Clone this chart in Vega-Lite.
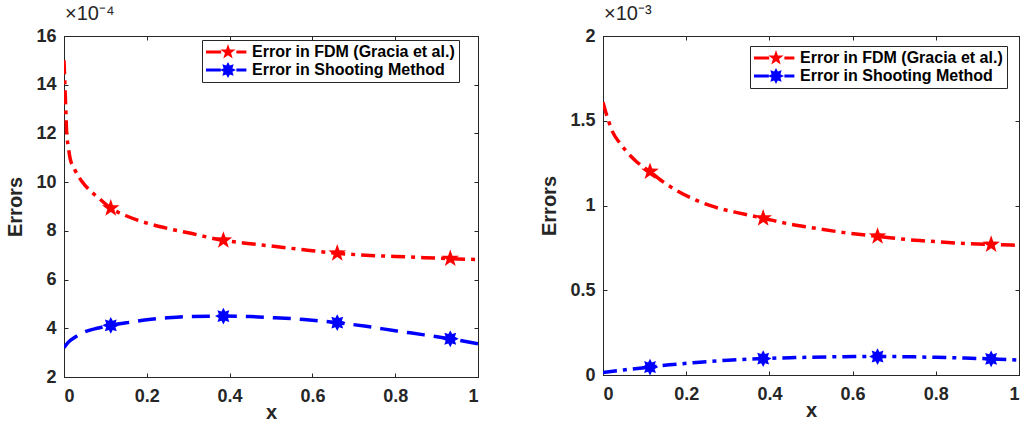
{
  "$schema": "https://vega.github.io/schema/vega-lite/v6.json",
  "background": "white",
  "padding": {"left": 5, "top": 3, "right": 0, "bottom": 0},
  "spacing": 60,
  "config": {
    "font": "Liberation Sans",
    "view": {"stroke": "#262626", "strokeWidth": 1},
    "title": {"font": "Liberation Sans", "fontSize": 20, "fontWeight": "normal", "color": "#262626", "anchor": "start", "frame": "group", "baseline": "alphabetic", "offset": 3, "dx": 1},
    "axis": {
      "labelFont": "Liberation Sans", "labelFontWeight": "bold", "labelFontSize": 18, "labelColor": "#262626",
      "titleFont": "Liberation Sans", "titleFontWeight": "bold", "titleFontSize": 20, "titleColor": "#262626",
      "domainColor": "#262626", "tickColor": "#262626", "grid": false
    },
    "legend": {
      "labelFont": "Liberation Sans", "labelFontWeight": "bold", "labelFontSize": 16, "labelColor": "black",
      "strokeColor": "#262626", "fillColor": "white", "padding": 4, "rowPadding": 2,
      "symbolSize": 256, "symbolStrokeWidth": 0, "symbolOpacity": 1, "symbolOffset": 14, "labelOffset": 16, "labelLimit": 400
    }
  },
  "datasets": {
    "leftCurves": [
      {"method": "Error in FDM (Gracia et al.)", "x": 0, "error": 15.0},
      {"method": "Error in FDM (Gracia et al.)", "x": 0.0024, "error": 13.9},
      {"method": "Error in FDM (Gracia et al.)", "x": 0.0045, "error": 12.9},
      {"method": "Error in FDM (Gracia et al.)", "x": 0.0065, "error": 12.0},
      {"method": "Error in FDM (Gracia et al.)", "x": 0.01, "error": 11.5},
      {"method": "Error in FDM (Gracia et al.)", "x": 0.0145, "error": 11.0},
      {"method": "Error in FDM (Gracia et al.)", "x": 0.025, "error": 10.55},
      {"method": "Error in FDM (Gracia et al.)", "x": 0.0425, "error": 10.05},
      {"method": "Error in FDM (Gracia et al.)", "x": 0.06, "error": 9.7},
      {"method": "Error in FDM (Gracia et al.)", "x": 0.083, "error": 9.36},
      {"method": "Error in FDM (Gracia et al.)", "x": 0.113, "error": 8.93},
      {"method": "Error in FDM (Gracia et al.)", "x": 0.15, "error": 8.62},
      {"method": "Error in FDM (Gracia et al.)", "x": 0.2, "error": 8.32},
      {"method": "Error in FDM (Gracia et al.)", "x": 0.25, "error": 8.1},
      {"method": "Error in FDM (Gracia et al.)", "x": 0.3, "error": 7.92},
      {"method": "Error in FDM (Gracia et al.)", "x": 0.385, "error": 7.61},
      {"method": "Error in FDM (Gracia et al.)", "x": 0.45, "error": 7.47},
      {"method": "Error in FDM (Gracia et al.)", "x": 0.5, "error": 7.38},
      {"method": "Error in FDM (Gracia et al.)", "x": 0.58, "error": 7.22},
      {"method": "Error in FDM (Gracia et al.)", "x": 0.66, "error": 7.08},
      {"method": "Error in FDM (Gracia et al.)", "x": 0.75, "error": 6.98},
      {"method": "Error in FDM (Gracia et al.)", "x": 0.8, "error": 6.95},
      {"method": "Error in FDM (Gracia et al.)", "x": 0.87, "error": 6.9},
      {"method": "Error in FDM (Gracia et al.)", "x": 0.933, "error": 6.86},
      {"method": "Error in FDM (Gracia et al.)", "x": 1.0, "error": 6.82},
      {"method": "Error in Shooting Method", "x": 0, "error": 3.2},
      {"method": "Error in Shooting Method", "x": 0.01, "error": 3.42},
      {"method": "Error in Shooting Method", "x": 0.027, "error": 3.64},
      {"method": "Error in Shooting Method", "x": 0.05, "error": 3.85},
      {"method": "Error in Shooting Method", "x": 0.08, "error": 4.0},
      {"method": "Error in Shooting Method", "x": 0.113, "error": 4.12},
      {"method": "Error in Shooting Method", "x": 0.16, "error": 4.25},
      {"method": "Error in Shooting Method", "x": 0.2, "error": 4.35},
      {"method": "Error in Shooting Method", "x": 0.25, "error": 4.43},
      {"method": "Error in Shooting Method", "x": 0.3, "error": 4.48},
      {"method": "Error in Shooting Method", "x": 0.385, "error": 4.5},
      {"method": "Error in Shooting Method", "x": 0.45, "error": 4.48},
      {"method": "Error in Shooting Method", "x": 0.5, "error": 4.44},
      {"method": "Error in Shooting Method", "x": 0.58, "error": 4.36},
      {"method": "Error in Shooting Method", "x": 0.66, "error": 4.23},
      {"method": "Error in Shooting Method", "x": 0.73, "error": 4.08},
      {"method": "Error in Shooting Method", "x": 0.8, "error": 3.9},
      {"method": "Error in Shooting Method", "x": 0.87, "error": 3.73},
      {"method": "Error in Shooting Method", "x": 0.933, "error": 3.57},
      {"method": "Error in Shooting Method", "x": 1.0, "error": 3.36}
    ],
    "leftMarkers": [
      {"method": "Error in FDM (Gracia et al.)", "x": 0.113, "error": 8.93},
      {"method": "Error in FDM (Gracia et al.)", "x": 0.385, "error": 7.61},
      {"method": "Error in FDM (Gracia et al.)", "x": 0.66, "error": 7.08},
      {"method": "Error in FDM (Gracia et al.)", "x": 0.933, "error": 6.86},
      {"method": "Error in Shooting Method", "x": 0.113, "error": 4.12},
      {"method": "Error in Shooting Method", "x": 0.385, "error": 4.5},
      {"method": "Error in Shooting Method", "x": 0.66, "error": 4.23},
      {"method": "Error in Shooting Method", "x": 0.933, "error": 3.57}
    ],
    "rightCurves": [
      {"method": "Error in FDM (Gracia et al.)", "x": 0, "error": 1.61},
      {"method": "Error in FDM (Gracia et al.)", "x": 0.008, "error": 1.54},
      {"method": "Error in FDM (Gracia et al.)", "x": 0.016, "error": 1.48},
      {"method": "Error in FDM (Gracia et al.)", "x": 0.024, "error": 1.43},
      {"method": "Error in FDM (Gracia et al.)", "x": 0.04, "error": 1.37},
      {"method": "Error in FDM (Gracia et al.)", "x": 0.056, "error": 1.32},
      {"method": "Error in FDM (Gracia et al.)", "x": 0.08, "error": 1.26},
      {"method": "Error in FDM (Gracia et al.)", "x": 0.113, "error": 1.2},
      {"method": "Error in FDM (Gracia et al.)", "x": 0.15, "error": 1.13},
      {"method": "Error in FDM (Gracia et al.)", "x": 0.216, "error": 1.04},
      {"method": "Error in FDM (Gracia et al.)", "x": 0.27, "error": 0.99},
      {"method": "Error in FDM (Gracia et al.)", "x": 0.328, "error": 0.955},
      {"method": "Error in FDM (Gracia et al.)", "x": 0.385, "error": 0.925},
      {"method": "Error in FDM (Gracia et al.)", "x": 0.45, "error": 0.89},
      {"method": "Error in FDM (Gracia et al.)", "x": 0.5, "error": 0.87},
      {"method": "Error in FDM (Gracia et al.)", "x": 0.58, "error": 0.84},
      {"method": "Error in FDM (Gracia et al.)", "x": 0.66, "error": 0.818},
      {"method": "Error in FDM (Gracia et al.)", "x": 0.75, "error": 0.795},
      {"method": "Error in FDM (Gracia et al.)", "x": 0.8, "error": 0.787},
      {"method": "Error in FDM (Gracia et al.)", "x": 0.87, "error": 0.776},
      {"method": "Error in FDM (Gracia et al.)", "x": 0.933, "error": 0.77},
      {"method": "Error in FDM (Gracia et al.)", "x": 1.0, "error": 0.765},
      {"method": "Error in Shooting Method", "x": 0, "error": 0.015},
      {"method": "Error in Shooting Method", "x": 0.05, "error": 0.03},
      {"method": "Error in Shooting Method", "x": 0.113, "error": 0.047},
      {"method": "Error in Shooting Method", "x": 0.16, "error": 0.06},
      {"method": "Error in Shooting Method", "x": 0.216, "error": 0.072},
      {"method": "Error in Shooting Method", "x": 0.3, "error": 0.087},
      {"method": "Error in Shooting Method", "x": 0.385, "error": 0.097},
      {"method": "Error in Shooting Method", "x": 0.45, "error": 0.102},
      {"method": "Error in Shooting Method", "x": 0.5, "error": 0.105},
      {"method": "Error in Shooting Method", "x": 0.58, "error": 0.108},
      {"method": "Error in Shooting Method", "x": 0.66, "error": 0.109},
      {"method": "Error in Shooting Method", "x": 0.75, "error": 0.107},
      {"method": "Error in Shooting Method", "x": 0.8, "error": 0.104},
      {"method": "Error in Shooting Method", "x": 0.87, "error": 0.1},
      {"method": "Error in Shooting Method", "x": 0.933, "error": 0.095},
      {"method": "Error in Shooting Method", "x": 1.0, "error": 0.088}
    ],
    "rightMarkers": [
      {"method": "Error in FDM (Gracia et al.)", "x": 0.113, "error": 1.2},
      {"method": "Error in FDM (Gracia et al.)", "x": 0.385, "error": 0.925},
      {"method": "Error in FDM (Gracia et al.)", "x": 0.66, "error": 0.818},
      {"method": "Error in FDM (Gracia et al.)", "x": 0.933, "error": 0.77},
      {"method": "Error in Shooting Method", "x": 0.113, "error": 0.047},
      {"method": "Error in Shooting Method", "x": 0.385, "error": 0.097},
      {"method": "Error in Shooting Method", "x": 0.66, "error": 0.109},
      {"method": "Error in Shooting Method", "x": 0.933, "error": 0.095}
    ]
  },
  "resolve": {"scale": {"color": "independent", "shape": "independent"}, "legend": {"color": "independent", "shape": "independent"}},
  "hconcat": [
    {
      "width": 414, "height": 341,
      "title": {"text": "×10⁻⁴"},
      "resolve": {"axis": {"x": "independent", "y": "independent"}},
      "layer": [
        {
          "data": {"name": "leftCurves"},
          "transform": [{"filter": "datum.method === 'Error in FDM (Gracia et al.)'"}],
          "mark": {"type": "line", "strokeWidth": 3.5, "interpolate": "monotone", "clip": true, "color": "#ff0000", "strokeDash": [14, 6, 4, 6]},
          "encoding": {
            "x": {"field": "x", "type": "quantitative", "scale": {"domain": [0, 1], "nice": false},
              "axis": {"orient": "bottom", "values": [0, 0.2, 0.4, 0.6, 0.8, 1], "format": "~g", "title": "x", "tickSize": -4, "labelPadding": 14, "titlePadding": -3}},
            "y": {"field": "error", "type": "quantitative", "scale": {"domain": [2, 16], "nice": false, "zero": false},
              "axis": {"orient": "left", "values": [2, 4, 6, 8, 10, 12, 14, 16], "format": "~g", "title": "Errors", "tickSize": -4, "labelPadding": 12, "titlePadding": 10}}
          }
        },
        {
          "data": {"name": "leftCurves"},
          "transform": [{"filter": "datum.method === 'Error in Shooting Method'"}],
          "mark": {"type": "line", "strokeWidth": 3.5, "interpolate": "monotone", "clip": true, "color": "#0000ff", "strokeDash": [18, 9]},
          "encoding": {
            "x": {"field": "x", "type": "quantitative", "axis": null},
            "y": {"field": "error", "type": "quantitative", "axis": null}
          }
        },
        {
          "data": {"name": "leftMarkers"},
          "transform": [{"filter": "datum.method === 'Error in FDM (Gracia et al.)'"}],
          "mark": {"type": "point", "filled": true, "opacity": 1, "strokeWidth": 1, "size": 340, "color": "#ff0000", "shape": "M0,-1L0.235,-0.324L0.951,-0.309L0.38,0.124L0.588,0.809L0,0.4L-0.588,0.809L-0.38,0.124L-0.951,-0.309L-0.235,-0.324Z"},
          "encoding": {
            "x": {"field": "x", "type": "quantitative",
              "axis": {"orient": "top", "values": [0, 0.2, 0.4, 0.6, 0.8, 1], "labels": false, "title": null, "tickSize": -4}},
            "y": {"field": "error", "type": "quantitative",
              "axis": {"orient": "right", "values": [2, 4, 6, 8, 10, 12, 14, 16], "labels": false, "title": null, "tickSize": -4}}
          }
        },
        {
          "data": {"name": "leftMarkers"},
          "transform": [{"filter": "datum.method === 'Error in Shooting Method'"}],
          "mark": {"type": "point", "filled": true, "opacity": 1, "strokeWidth": 1, "size": 280, "color": "#0000ff", "shape": "M1,0L0.554,0.23L0.707,0.707L0.23,0.554L0,1L-0.23,0.554L-0.707,0.707L-0.554,0.23L-1,0L-0.554,-0.23L-0.707,-0.707L-0.23,-0.554L0,-1L0.23,-0.554L0.707,-0.707L0.554,-0.23Z"},
          "encoding": {
            "x": {"field": "x", "type": "quantitative", "axis": null},
            "y": {"field": "error", "type": "quantitative", "axis": null}
          }
        },
        {
          "data": {"name": "leftMarkers"},
          "mark": {"type": "point", "filled": true, "opacity": 0},
          "encoding": {
            "x": {"field": "x", "type": "quantitative", "axis": null},
            "y": {"field": "error", "type": "quantitative", "axis": null},
            "color": {"field": "method", "type": "nominal",
              "scale": {"domain": ["Error in FDM (Gracia et al.)", "Error in Shooting Method"], "range": ["#ff0000", "#0000ff"]},
              "legend": {"title": null, "orient": "none", "legendX": 138, "legendY": 4}},
            "shape": {"field": "method", "type": "nominal",
              "scale": {"domain": ["Error in FDM (Gracia et al.)", "Error in Shooting Method"], "range": ["M-2.75,-0.2H-0.85V0.2H-2.75Z M1.05,-0.2H2.3V0.2H1.05Z M0,-1L0.235,-0.324L0.951,-0.309L0.38,0.124L0.588,0.809L0,0.4L-0.588,0.809L-0.38,0.124L-0.951,-0.309L-0.235,-0.324Z", "M-2.75,-0.2H-0.9V0.2H-2.75Z M1.05,-0.2H2.3V0.2H1.05Z M1,0L0.554,0.23L0.707,0.707L0.23,0.554L0,1L-0.23,0.554L-0.707,0.707L-0.554,0.23L-1,0L-0.554,-0.23L-0.707,-0.707L-0.23,-0.554L0,-1L0.23,-0.554L0.707,-0.707L0.554,-0.23Z"]},
              "legend": {"title": null, "orient": "none", "legendX": 138, "legendY": 4}}
          }
        }
      ]
    },
    {
      "width": 416, "height": 339,
      "title": {"text": "×10⁻³"},
      "resolve": {"axis": {"x": "independent", "y": "independent"}},
      "layer": [
        {
          "data": {"name": "rightCurves"},
          "transform": [{"filter": "datum.method === 'Error in FDM (Gracia et al.)'"}],
          "mark": {"type": "line", "strokeWidth": 3.5, "interpolate": "monotone", "clip": true, "color": "#ff0000", "strokeDash": [14, 6, 4, 6]},
          "encoding": {
            "x": {"field": "x", "type": "quantitative", "scale": {"domain": [0, 1], "nice": false},
              "axis": {"orient": "bottom", "values": [0, 0.2, 0.4, 0.6, 0.8, 1], "format": "~g", "title": "x", "tickSize": -4, "labelPadding": 14, "titlePadding": -3}},
            "y": {"field": "error", "type": "quantitative", "scale": {"domain": [0, 2], "nice": false},
              "axis": {"orient": "left", "values": [0, 0.5, 1, 1.5, 2], "format": "~g", "title": "Errors", "tickSize": -4, "labelPadding": 12, "titlePadding": 10}}
          }
        },
        {
          "data": {"name": "rightCurves"},
          "transform": [{"filter": "datum.method === 'Error in Shooting Method'"}],
          "mark": {"type": "line", "strokeWidth": 3.5, "interpolate": "monotone", "clip": true, "color": "#0000ff", "strokeDash": [14, 6, 4, 6]},
          "encoding": {
            "x": {"field": "x", "type": "quantitative", "axis": null},
            "y": {"field": "error", "type": "quantitative", "axis": null}
          }
        },
        {
          "data": {"name": "rightMarkers"},
          "transform": [{"filter": "datum.method === 'Error in FDM (Gracia et al.)'"}],
          "mark": {"type": "point", "filled": true, "opacity": 1, "strokeWidth": 1, "size": 340, "color": "#ff0000", "shape": "M0,-1L0.235,-0.324L0.951,-0.309L0.38,0.124L0.588,0.809L0,0.4L-0.588,0.809L-0.38,0.124L-0.951,-0.309L-0.235,-0.324Z"},
          "encoding": {
            "x": {"field": "x", "type": "quantitative",
              "axis": {"orient": "top", "values": [0, 0.2, 0.4, 0.6, 0.8, 1], "labels": false, "title": null, "tickSize": -4}},
            "y": {"field": "error", "type": "quantitative",
              "axis": {"orient": "right", "values": [0, 0.5, 1, 1.5, 2], "labels": false, "title": null, "tickSize": -4}}
          }
        },
        {
          "data": {"name": "rightMarkers"},
          "transform": [{"filter": "datum.method === 'Error in Shooting Method'"}],
          "mark": {"type": "point", "filled": true, "opacity": 1, "strokeWidth": 1, "size": 280, "color": "#0000ff", "shape": "M1,0L0.554,0.23L0.707,0.707L0.23,0.554L0,1L-0.23,0.554L-0.707,0.707L-0.554,0.23L-1,0L-0.554,-0.23L-0.707,-0.707L-0.23,-0.554L0,-1L0.23,-0.554L0.707,-0.707L0.554,-0.23Z"},
          "encoding": {
            "x": {"field": "x", "type": "quantitative", "axis": null},
            "y": {"field": "error", "type": "quantitative", "axis": null}
          }
        },
        {
          "data": {"name": "rightMarkers"},
          "mark": {"type": "point", "filled": true, "opacity": 0},
          "encoding": {
            "x": {"field": "x", "type": "quantitative", "axis": null},
            "y": {"field": "error", "type": "quantitative", "axis": null},
            "color": {"field": "method", "type": "nominal",
              "scale": {"domain": ["Error in FDM (Gracia et al.)", "Error in Shooting Method"], "range": ["#ff0000", "#0000ff"]},
              "legend": {"title": null, "orient": "none", "legendX": 147, "legendY": 10}},
            "shape": {"field": "method", "type": "nominal",
              "scale": {"domain": ["Error in FDM (Gracia et al.)", "Error in Shooting Method"], "range": ["M-2.75,-0.2H-0.85V0.2H-2.75Z M1.05,-0.2H2.3V0.2H1.05Z M0,-1L0.235,-0.324L0.951,-0.309L0.38,0.124L0.588,0.809L0,0.4L-0.588,0.809L-0.38,0.124L-0.951,-0.309L-0.235,-0.324Z", "M-2.75,-0.2H-0.9V0.2H-2.75Z M1.05,-0.2H2.3V0.2H1.05Z M1,0L0.554,0.23L0.707,0.707L0.23,0.554L0,1L-0.23,0.554L-0.707,0.707L-0.554,0.23L-1,0L-0.554,-0.23L-0.707,-0.707L-0.23,-0.554L0,-1L0.23,-0.554L0.707,-0.707L0.554,-0.23Z"]},
              "legend": {"title": null, "orient": "none", "legendX": 147, "legendY": 10}}
          }
        }
      ]
    }
  ]
}
